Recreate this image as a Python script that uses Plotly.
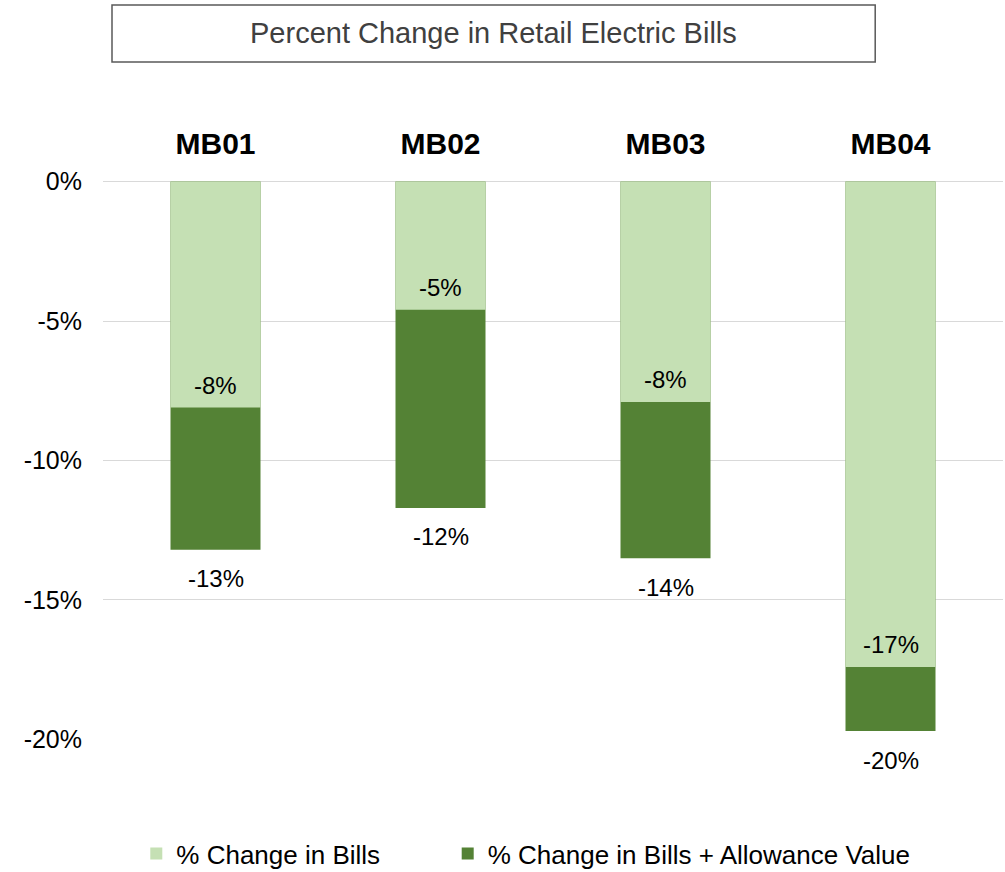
import plotly.graph_objects as go

categories = ["MB01", "MB02", "MB03", "MB04"]
bills = [-0.081, -0.046, -0.079, -0.174]
bills_allowance = [-0.132, -0.117, -0.135, -0.197]
tick_vals = [0, -0.05, -0.10, -0.15, -0.20]
tick_text = ["0%", "-5%", "-10%", "-15%", "-20%"]

light = "#C5E0B4"
dark = "#548235"
font = "Arial, Liberation Sans, sans-serif"

fig = go.Figure()
fig.add_trace(go.Bar(
    x=categories, y=bills_allowance, name="% Change in Bills + Allowance Value",
    marker=dict(color=dark, line=dict(width=0)),
    width=0.4, legend="legend2",
))
fig.add_trace(go.Bar(
    x=categories, y=bills, name="% Change in Bills",
    marker=dict(color=light, line=dict(width=0)),
    width=0.4, legend="legend",
))

label_font = dict(family=font, size=24, color="#000000")
annotations = []
for c, v in zip(categories, bills):
    annotations.append(dict(x=c, y=v, xref="x", yref="y", text=f"{round(v*100):d}%",
                            showarrow=False, yshift=22, yanchor="middle",
                            font=label_font))
for c, v in zip(categories, bills_allowance):
    annotations.append(dict(x=c, y=v, xref="x", yref="y", text=f"{round(v*100):d}%",
                            showarrow=False, yshift=-29, yanchor="middle",
                            font=label_font))
annotations.append(dict(text="Percent Change in Retail Electric Bills", xref="paper", yref="paper",
                        x=0.434, y=1.264, xanchor="center", yanchor="middle", showarrow=False,
                        font=dict(family=font, size=29, color="#404040")))

legend_common = dict(orientation="h", yref="container", y=0.021, yanchor="middle",
                     xanchor="left", bgcolor="rgba(0,0,0,0)",
                     font=dict(family=font, size=26, color="#000000"))

fig.update_layout(
    barmode="overlay",
    width=1005, height=872,
    margin=dict(l=103, r=2, t=181, b=132),
    plot_bgcolor="white", paper_bgcolor="white",
    font=dict(family=font, color="#000000"),
    showlegend=True,
    legend=dict(x=0.037, **legend_common),
    legend2=dict(x=0.383, **legend_common),
    xaxis=dict(side="top", showgrid=False, showline=False, ticks="",
               ticklabelstandoff=20,
               tickfont=dict(family=font, size=30, color="#000000", weight="bold")),
    yaxis=dict(range=[-0.2002, 0.0002], tickvals=tick_vals, ticktext=tick_text,
               showgrid=True, gridcolor="#D9D9D9", gridwidth=1,
               zeroline=True, zerolinecolor="#D9D9D9", zerolinewidth=1,
               showline=False, ticks="", ticklabelstandoff=20,
               tickfont=dict(family=font, size=25, color="#000000")),
    shapes=[dict(type="rect", xref="paper", yref="paper",
                 x0=0.01, x1=0.858, y0=1.213, y1=1.315,
                 line=dict(color="#595959", width=1.5), fillcolor="white")],
    annotations=annotations,
)

fig.write_html("out.html", config={"displayModeBar": False},
               post_script="document.body.style.margin='0';")
